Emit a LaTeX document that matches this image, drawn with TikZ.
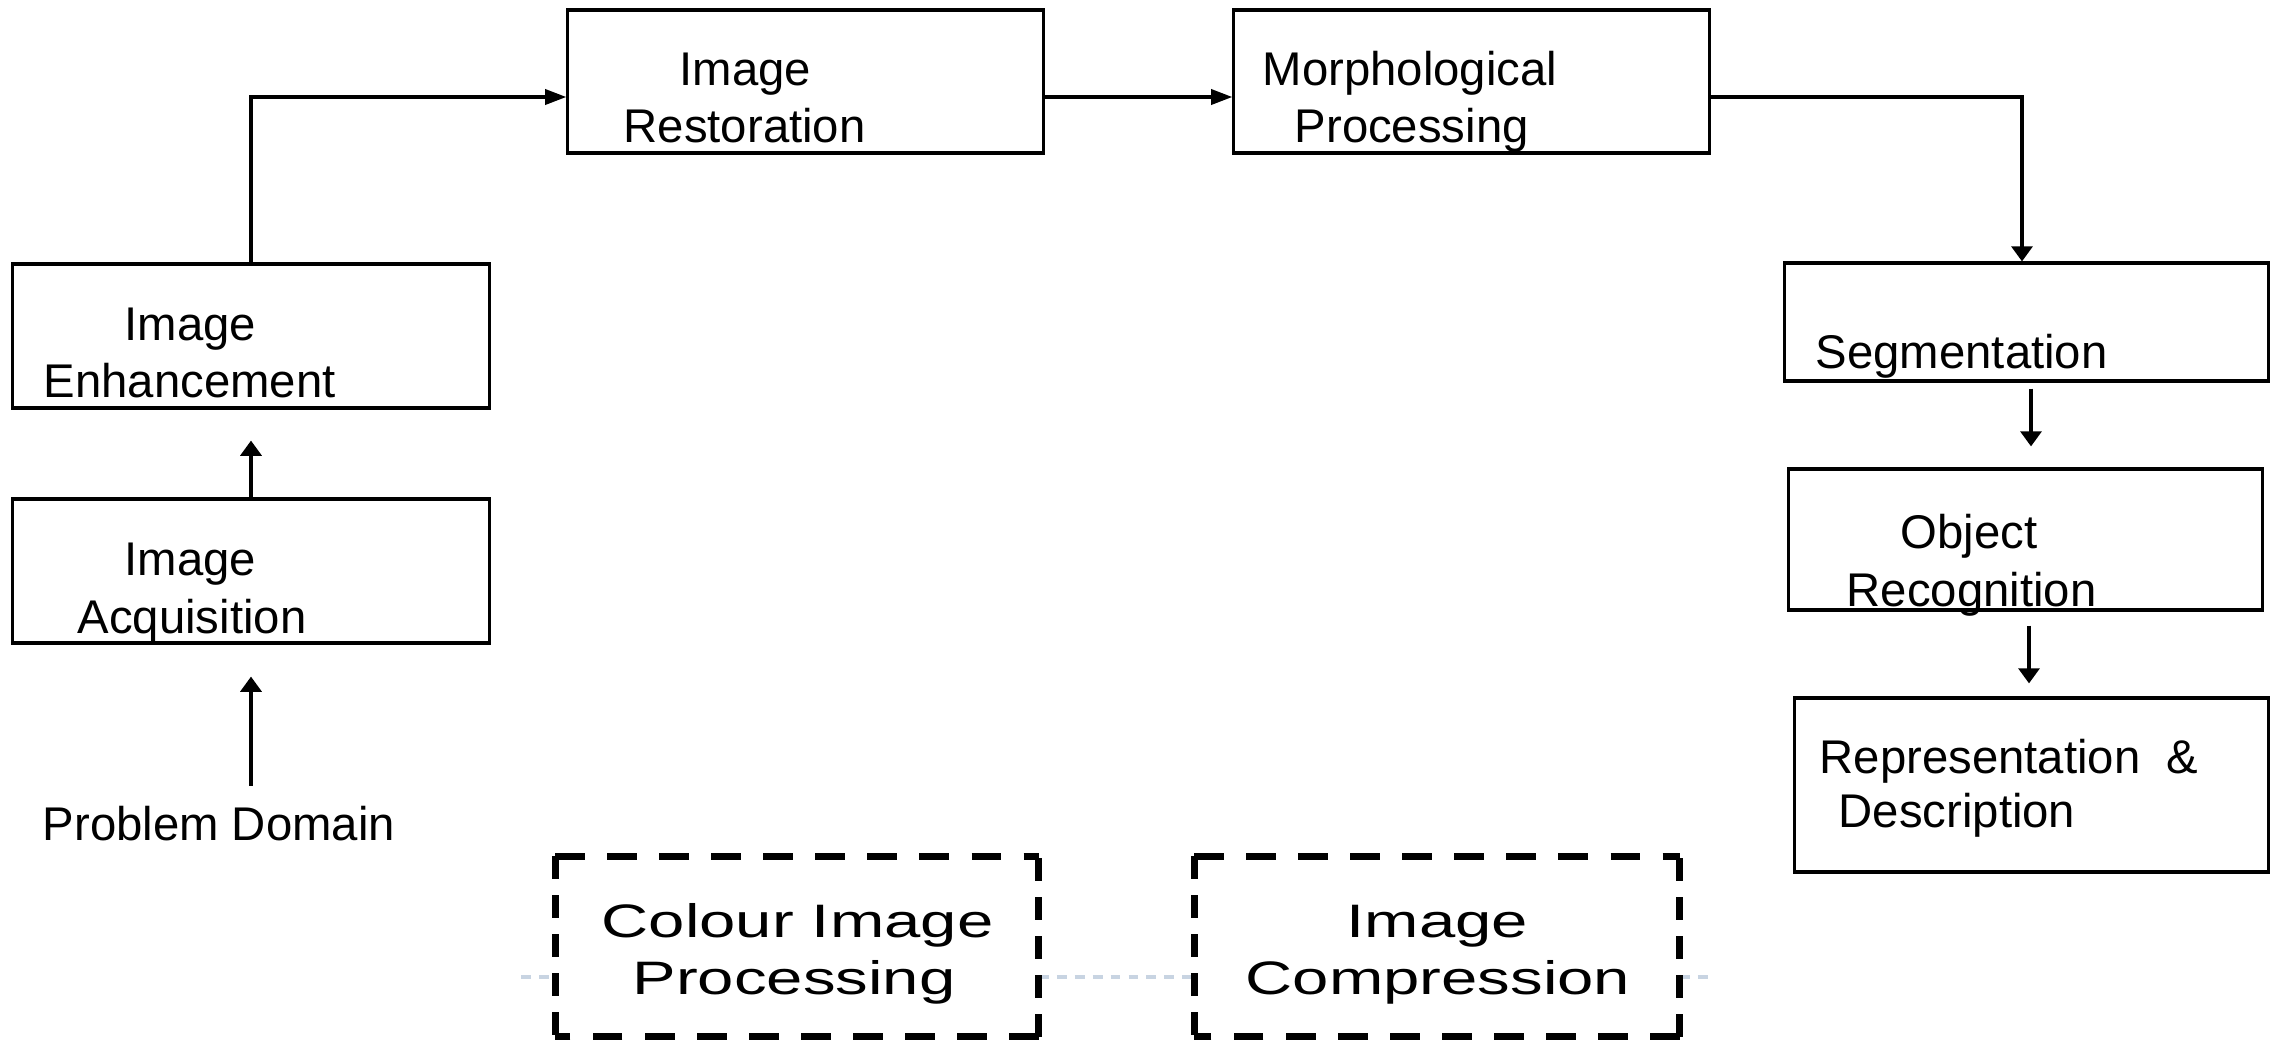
\documentclass[tikz,border=0pt]{standalone}
\usepackage{fontspec}
\setmainfont{Liberation Sans}
\newfontfamily\wideface[FakeStretch=1.39]{Liberation Sans}
\usetikzlibrary{arrows.meta,calc}
\begin{document}
\begin{tikzpicture}[x=0.01cm,y=-0.01cm,
  box/.style 2 args={draw,line width=0.9pt,inner sep=0pt,minimum width=#1,minimum height=#2},
  dbox/.style 2 args={inner sep=0pt,minimum width=#1,minimum height=#2},
  lbl/.style={anchor=base west,inner sep=0pt,font=\fontsize{13.45pt}{16pt}\selectfont},
  widelbl/.style={anchor=base west,inner sep=0pt,font=\wideface\fontsize{13.35pt}{16pt}\selectfont},
  harrow/.style={-{Triangle[length=6pt,width=4.3pt]},line width=0.9pt},
  varrow/.style={-{Triangle[length=4.3pt,width=6pt]},line width=0.9pt},
  hdash/.style={line width=2pt,dash pattern=on 8.5pt off 6.3pt},
  vdash/.style={line width=2pt,dash pattern=on 6.5pt off 4.6pt},
  faint/.style={line width=1.1pt,color={rgb,255:red,200;green,212;blue,226},dash pattern=on 2.8pt off 2.3pt}]
\useasboundingbox (0,0) rectangle (2275,1039);

% boxes
\node[box={4.76cm}{1.44cm}] (enh) at (251,336) {};
\node[box={4.76cm}{1.44cm}] (acq) at (251,571) {};
\node[box={4.75cm}{1.43cm}] (res) at (805.5,81.5) {};
\node[box={4.75cm}{1.43cm}] (mor) at (1471.5,81.5) {};
\node[box={4.83cm}{1.18cm}] (seg) at (2026.5,322) {};
\node[box={4.73cm}{1.41cm}] (obj) at (2025.5,539.5) {};
\node[box={4.73cm}{1.74cm}] (rep) at (2031.5,785) {};
\node[dbox={4.82cm}{1.79cm}] (col) at (797,946.5) {};
\node[dbox={4.84cm}{1.79cm}] (cmp) at (1437,946.5) {};

% labels
\node[lbl] (enh1) at (124,340) {Image};
\node[lbl] (enh2) at (43,397) {Enhancement};
\node[lbl] (acq1) at (124,575) {Image};
\node[lbl] (acq2) at (77,633) {Acquisition};
\node[lbl] (res1) at (679,85) {Image};
\node[lbl] (res2) at (623,142) {Restoration};
\node[lbl] (mor1) at (1262,85) {Morphological};
\node[lbl] (mor2) at (1294,142) {Processing};
\node[lbl] (seg1) at (1815,368) {Segmentation};
\node[lbl] (obj1) at (1900,548) {Object};
\node[lbl] (obj2) at (1846,606) {Recognition};
\node[lbl] (rep1) at (1819,773) {Representation\ \ \&};
\node[lbl] (rep2) at (1838,827) {Description};
\node[lbl] (pd) at (42,840) {Problem Domain};
\node[widelbl] (col1) at (601,937) {Colour Image};
\node[widelbl] (col2) at (632,994) {Processing};
\node[widelbl] (cmp1) at (1346,937) {Image};
\node[widelbl] (cmp2) at (1245,994) {Compression};

% connectors
\coordinate (pdtop) at ($(acq.south)+(0,141)$);
\draw[varrow] (pdtop) -- ($(acq.south)+(0,32)$);
\draw[varrow] (acq.north) -- ($(enh.south)+(0,31)$);
\draw[harrow] (enh.north) |- ($(res.west)+(0,15.5)$);
\draw[harrow] ($(res.east)+(0,15.5)$) -- ($(mor.west)+(0,15.5)$);
\draw[varrow] ($(mor.east)+(0,15.5)$) -| ($(seg.north)+(-4.5,0)$);
\draw[varrow] ($(seg.south)+(4.5,6)$) -- ($(obj.north)+(5.5,-21)$);
\draw[varrow] ($(obj.south)+(3.5,14)$) -- ($(rep.north)+(-2.5,-13)$);

% faint line between dashed boxes
\draw[faint] ($(col.west)+(-34,30.5)$) -- ($(col.west)+(0,30.5)$);
\draw[faint] ($(col.east)+(0,30.5)$) -- ($(cmp.west)+(0,30.5)$);
\draw[faint] ($(cmp.east)+(0,30.5)$) -- ($(cmp.east)+(31,30.5)$);

% dashed borders
\foreach \n in {col,cmp}{
  \draw[hdash] (\n.north west) -- (\n.north east);
  \draw[hdash] (\n.south east) -- (\n.south west);
  \draw[vdash] (\n.north west) -- (\n.south west);
  \draw[vdash] (\n.south east) -- (\n.north east);
}
\end{tikzpicture}
\end{document}
